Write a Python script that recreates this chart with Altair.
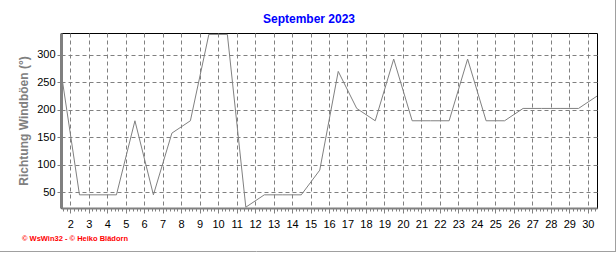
import altair as alt
import pandas as pd

days = list(range(1, 31))
direction = [270, 45, 45, 45, 180, 45, 157.5, 180, 337.5, 337.5,
             22.5, 45, 45, 45, 90, 270, 202.5, 180, 292.5, 180,
             180, 180, 292.5, 180, 180, 202.5, 202.5, 202.5, 202.5, 225]
y_ticks = [50, 100, 150, 200, 250, 300]
title_text = "September 2023"
y_title = "Richtung Windböen  (°)"
credit = "© WsWin32  -  © Heiko Blädorn"

df = pd.DataFrame({"day": days, "dir": direction})

# tick positions: day boundaries plus 4 minor ticks per day
x_ticks = [round(1.6 + 0.2 * i, 2) for i in range(0, 145)]
is_major = "abs(datum.value - round(datum.value)) < 0.01"

FONT = "Liberation Sans"
GRAY = "#808080"

base = alt.Chart(df)

line = base.transform_calculate(pos="datum.day + 0.5").mark_line(
    color=GRAY, strokeWidth=1, clip=True
).encode(
    x=alt.X(
        "pos:Q",
        scale=alt.Scale(domain=[1.5, 30.5], nice=False, zero=False),
        axis=alt.Axis(
            title=None,
            values=x_ticks,
            labelExpr=f"{is_major} ? format(round(datum.value), 'd') : ''",
            labelFont=FONT,
            labelFontSize=11,
            labelColor="#000000",
            labelPadding=5,
            labelFlush=False,
            labelOverlap=False,
            tickColor=GRAY,
            tickSize={"condition": {"test": is_major, "value": 5}, "value": 3},
            tickWidth=1,
            domainColor=GRAY,
            domainWidth=2,
            grid=True,
            gridColor=GRAY,
            gridDash=[4, 3],
            gridWidth=1,
            gridOpacity={"condition": {"test": is_major, "value": 1}, "value": 0},
        ),
    ),
    y=alt.Y(
        "dir:Q",
        scale=alt.Scale(domain=[21, 340], nice=False, zero=False),
        axis=alt.Axis(
            title=y_title,
            titleFont=FONT,
            titleFontSize=12,
            titleFontWeight="bold",
            titleColor=GRAY,
            titlePadding=6,
            values=y_ticks,
            labelFont=FONT,
            labelFontSize=11,
            labelColor="#000000",
            labelPadding=2,
            tickColor=GRAY,
            tickSize=4,
            domainColor=GRAY,
            domainWidth=3,
            grid=True,
            gridColor=GRAY,
            gridDash=[4, 3],
            gridWidth=1,
        ),
    ),
)

title_mark = alt.Chart(pd.DataFrame({"t": [title_text]})).mark_text(
    align="center", baseline="alphabetic", font=FONT, fontSize=12,
    fontWeight="bold", color="#0000ff"
).encode(x=alt.value(248), y=alt.value(-10), text="t:N")

credit_text = alt.Chart(pd.DataFrame({"t": [credit]})).mark_text(
    align="left", baseline="alphabetic", font=FONT, fontSize=7.5,
    fontWeight="bold", color="#ff0000"
).encode(x=alt.value(-39), y=alt.value(208), text="t:N")

border_r = alt.Chart(pd.DataFrame({"a": [0]})).mark_rule(
    color="#a0a0a0", strokeWidth=1
).encode(x=alt.value(554.5), y=alt.value(-33), y2=alt.value(219))

border_b = alt.Chart(pd.DataFrame({"a": [0]})).mark_rule(
    color="#a0a0a0", strokeWidth=1
).encode(x=alt.value(-61), x2=alt.value(555), y=alt.value(218.5))

chart = alt.layer(line, title_mark, credit_text, border_r, border_b).properties(
    width=536,
    height=175,
    autosize=alt.AutoSizeParams(type="none"),
    padding={"left": 61, "top": 33, "right": 19, "bottom": 45},
    background="#ffffff",
).configure_view(stroke="#000000", strokeWidth=1)

chart.save("out.html", embed_options={"renderer": "svg", "actions": False})
